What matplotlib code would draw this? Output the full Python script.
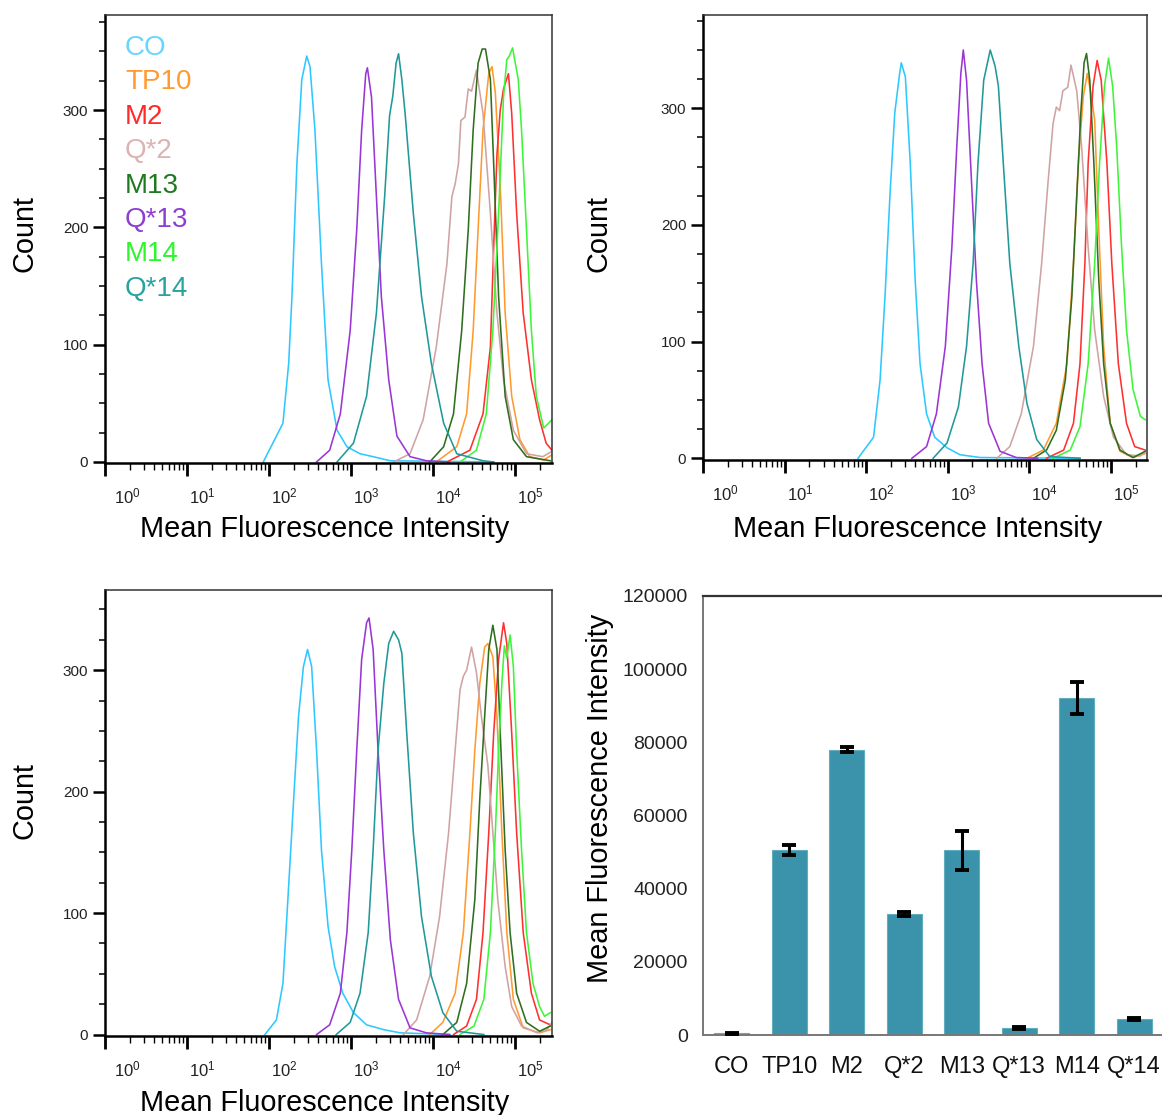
import matplotlib
matplotlib.use("Agg")
import matplotlib.pyplot as plt
import numpy as np
from matplotlib.ticker import FixedLocator, LogLocator, MultipleLocator, NullFormatter
from matplotlib.transforms import ScaledTranslation, blended_transform_factory

plt.rcParams['font.family'] = ['Liberation Sans', 'DejaVu Sans']
plt.rcParams['mathtext.fontset'] = 'custom'
plt.rcParams['mathtext.rm'] = 'Liberation Sans'
plt.rcParams['mathtext.it'] = 'Liberation Sans:italic'
plt.rcParams['mathtext.bf'] = 'Liberation Sans:bold'

# ---------------------------------------------------------------- data
SAMPLES = ["CO", "TP10", "M2", "Q*2", "M13", "Q*13", "M14", "Q*14"]
LINE_COLORS = ["#2ec8ff", "#ff9a30", "#ff3030", "#d0a3a3",
               "#2f6e1f", "#9b35d6", "#3ff53a", "#21999a"]
LEGEND_COLORS = ["#66d6ff", "#ff9a30", "#ff2a2a", "#dcb3b3",
                 "#1f7a1f", "#8d3fd0", "#2ef52e", "#2aa3a0"]

# flow cytometry histograms, points given as (log10 fluorescence, cell count)
REP1_CO = [(1.93, 0), (2.17, 33), (2.24, 84), (2.28, 141), (2.34, 254), (2.40, 326), (2.46, 346),
           (2.50, 337), (2.56, 283), (2.64, 169), (2.72, 70), (2.83, 27), (2.95, 13), (3.11, 7),
           (3.27, 4.5), (3.48, 1), (4.74, 0)]
REP1_TP10 = [(4.04, 0), (4.29, 13), (4.41, 41), (4.49, 112), (4.55, 198), (4.61, 283), (4.68, 331),
             (4.72, 337), (4.76, 315), (4.82, 236), (4.88, 127), (4.96, 56), (5.06, 19), (5.18, 4.5),
             (5.35, 1.7), (5.45, 6)]
REP1_M2 = [(4.17, 0), (4.45, 10), (4.61, 41), (4.70, 98), (4.74, 183), (4.78, 262), (4.82, 300),
           (4.86, 318), (4.92, 331), (4.96, 297), (5.02, 212), (5.10, 127), (5.20, 70), (5.30, 36),
           (5.38, 16), (5.45, 10)]
REP1_Q2 = [(3.52, 0), (3.72, 7), (3.88, 36), (4.04, 98), (4.17, 169), (4.23, 226), (4.27, 237),
           (4.31, 254), (4.34, 291), (4.39, 294), (4.43, 318), (4.47, 316), (4.53, 334), (4.61, 297),
           (4.70, 212), (4.78, 127), (4.86, 70), (4.98, 27), (5.14, 7), (5.34, 4.5), (5.45, 9)]
REP1_M13 = [(3.96, 0), (4.13, 13), (4.25, 41), (4.35, 112), (4.43, 198), (4.49, 283), (4.55, 340),
            (4.60, 352), (4.64, 352), (4.70, 326), (4.74, 254), (4.80, 141), (4.88, 56), (4.98, 19),
            (5.14, 4.5), (5.43, 1)]
REP1_Q13 = [(2.58, 0), (2.74, 10), (2.87, 41), (2.99, 112), (3.07, 198), (3.13, 283), (3.18, 331),
            (3.20, 336), (3.25, 311), (3.31, 226), (3.37, 141), (3.46, 70), (3.56, 22), (3.72, 4.5),
            (3.92, 1), (4.20, 0)]
REP1_M14 = [(4.33, 0), (4.53, 10), (4.65, 41), (4.73, 112), (4.80, 212), (4.86, 311), (4.90, 343),
            (4.93, 346), (4.97, 353), (5.04, 326), (5.08, 283), (5.14, 198), (5.20, 112), (5.26, 56),
            (5.35, 29), (5.41, 33), (5.45, 36)]
REP1_Q14 = [(2.83, 0), (3.03, 16), (3.19, 56), (3.31, 127), (3.41, 226), (3.47, 295), (3.51, 312),
            (3.55, 340), (3.58, 348), (3.62, 326), (3.66, 297), (3.76, 212), (3.86, 141), (3.98, 84),
            (4.13, 33), (4.29, 7), (4.61, 1), (4.74, 0)]

REP2_CO = [(1.90, 0), (2.09, 18), (2.17, 67), (2.23, 138), (2.29, 224), (2.35, 296), (2.41, 330),
           (2.43, 339), (2.48, 327), (2.54, 253), (2.60, 153), (2.66, 81), (2.74, 38), (2.84, 18),
           (2.99, 9), (3.15, 3), (3.40, 0.6), (4.62, 0)]
REP2_TP10 = [(3.97, 0), (4.17, 7), (4.33, 30), (4.46, 81), (4.54, 167), (4.60, 253), (4.66, 310),
             (4.71, 330), (4.76, 310), (4.80, 290), (4.85, 196), (4.91, 96), (4.99, 30), (5.11, 6),
             (5.27, 0.6), (5.42, 4)]
REP2_M2 = [(4.21, 0), (4.42, 7), (4.54, 30), (4.62, 81), (4.68, 167), (4.72, 253), (4.78, 319),
           (4.83, 341), (4.88, 324), (4.95, 253), (5.01, 167), (5.09, 81), (5.19, 30), (5.29, 10),
           (5.42, 7)]
REP2_Q2 = [(3.60, 0), (3.76, 10), (3.90, 38), (4.05, 96), (4.15, 167), (4.23, 238), (4.29, 287),
           (4.33, 301), (4.37, 298), (4.41, 315), (4.47, 318), (4.51, 337), (4.58, 315), (4.64, 267),
           (4.72, 181), (4.80, 110), (4.91, 53), (5.03, 18), (5.19, 3), (5.36, 2), (5.42, 6)]
REP2_M13 = [(4.05, 0), (4.21, 7), (4.33, 24), (4.44, 67), (4.52, 138), (4.58, 224), (4.63, 296),
            (4.67, 339), (4.70, 347), (4.74, 324), (4.79, 253), (4.85, 153), (4.91, 81), (4.99, 30),
            (5.11, 7), (5.27, 0.6), (5.42, 6)]
REP2_Q13 = [(2.56, 0), (2.74, 10), (2.86, 38), (2.97, 96), (3.05, 181), (3.11, 267), (3.16, 330),
            (3.19, 350), (3.23, 324), (3.29, 238), (3.35, 153), (3.42, 81), (3.50, 30), (3.64, 6),
            (3.84, 0.6), (4.10, 0)]
REP2_M14 = [(4.29, 0), (4.50, 7), (4.62, 27), (4.72, 81), (4.80, 167), (4.86, 253), (4.92, 319),
            (4.97, 343), (5.02, 319), (5.07, 267), (5.13, 181), (5.19, 110), (5.27, 59), (5.36, 36),
            (5.42, 33)]
REP2_Q14 = [(2.82, 0), (2.99, 13), (3.13, 44), (3.23, 96), (3.31, 167), (3.37, 253), (3.44, 324),
            (3.52, 350), (3.58, 336), (3.62, 319), (3.68, 253), (3.76, 167), (3.87, 96), (3.97, 47),
            (4.09, 16), (4.25, 1.4), (4.62, 0)]

REP3_CO = [(1.95, 0), (2.09, 12), (2.17, 42), (2.23, 111), (2.30, 193), (2.36, 262), (2.42, 303),
           (2.47, 317), (2.52, 303), (2.58, 234), (2.64, 152), (2.72, 89), (2.80, 56), (2.90, 34),
           (3.03, 18), (3.19, 8), (3.40, 4), (3.60, 1.4), (4.21, 0)]
REP3_TP10 = [(3.96, 0), (4.12, 10), (4.27, 34), (4.37, 84), (4.45, 166), (4.51, 234), (4.57, 289),
             (4.63, 319), (4.67, 322), (4.73, 311), (4.78, 262), (4.84, 166), (4.90, 84), (4.98, 29),
             (5.10, 5.5), (5.30, 1.4), (5.43, 4)]
REP3_M2 = [(4.25, 0), (4.41, 7), (4.53, 29), (4.61, 84), (4.68, 166), (4.74, 248), (4.80, 309),
           (4.86, 339), (4.90, 322), (4.96, 248), (5.02, 166), (5.10, 84), (5.20, 34), (5.30, 12),
           (5.43, 8)]
REP3_Q2 = [(3.64, 0), (3.80, 12), (3.96, 48), (4.08, 97), (4.19, 166), (4.27, 234), (4.33, 284),
           (4.37, 295), (4.41, 300), (4.47, 319), (4.53, 298), (4.59, 262), (4.67, 221), (4.73, 166),
           (4.79, 111), (4.88, 56), (4.96, 23), (5.08, 7), (5.27, 1.4), (5.39, 4), (5.45, 10)]
REP3_M13 = [(4.12, 0), (4.29, 10), (4.41, 42), (4.51, 111), (4.57, 193), (4.63, 262), (4.68, 317),
            (4.73, 337), (4.78, 317), (4.82, 248), (4.88, 152), (4.94, 84), (5.02, 34), (5.14, 10),
            (5.30, 2.7), (5.43, 7)]
REP3_Q13 = [(2.58, 0), (2.74, 8), (2.87, 34), (2.95, 84), (3.01, 152), (3.07, 234), (3.13, 309),
            (3.19, 339), (3.22, 343), (3.27, 317), (3.33, 234), (3.40, 152), (3.48, 78), (3.58, 29),
            (3.72, 5.5), (3.92, 1.4), (4.20, 0)]
REP3_M14 = [(4.33, 0), (4.50, 7), (4.62, 29), (4.70, 84), (4.76, 166), (4.80, 234), (4.84, 289),
            (4.87, 320), (4.90, 310), (4.94, 329), (4.98, 303), (5.02, 234), (5.08, 152), (5.14, 84),
            (5.22, 42), (5.30, 23), (5.36, 15), (5.43, 18)]
REP3_Q14 = [(2.82, 0), (2.99, 10), (3.11, 34), (3.21, 84), (3.27, 152), (3.33, 234), (3.40, 289),
            (3.46, 322), (3.52, 332), (3.58, 325), (3.62, 314), (3.68, 248), (3.76, 166), (3.86, 97),
            (3.98, 48), (4.12, 18), (4.29, 2.7), (4.62, 0)]

# mean fluorescence intensity per sample (mean, error)
MFI_MEAN = [500, 50500, 78000, 33000, 50500, 1900, 92200, 4400]
MFI_ERR = [150, 1300, 600, 600, 5300, 300, 4400, 350]

DECADES = [0, 1, 2, 3, 4, 5]
COUNT_TICKS = [0, 100, 200, 300]
MFI_TICKS = [0, 20000, 40000, 60000, 80000, 100000, 120000]

REPLICATES = [
    [REP1_CO, REP1_TP10, REP1_M2, REP1_Q2, REP1_M13, REP1_Q13, REP1_M14, REP1_Q14],
    [REP2_CO, REP2_TP10, REP2_M2, REP2_Q2, REP2_M13, REP2_Q13, REP2_M14, REP2_Q14],
    [REP3_CO, REP3_TP10, REP3_M2, REP3_Q2, REP3_M13, REP3_Q13, REP3_M14, REP3_Q14],
]

# ---------------------------------------------------------------- layout
W, H = 1162, 1115
DPI = 100
fig = plt.figure(figsize=(W / DPI, H / DPI), dpi=DPI)
fig.patch.set_facecolor("white")


def px_axes(left, top, right, bottom):
    return fig.add_axes([left / W, 1 - bottom / H, (right - left) / W, (bottom - top) / H])


def px(v):
    return v / DPI


def style_histogram(ax, xmax_exp, ylim, ylab_xy, xlab_xy):
    ax.set_xscale("log")
    ax.set_xlim(1, 10 ** xmax_exp)
    ax.set_ylim(*ylim)
    ax.xaxis.set_major_locator(FixedLocator([10.0 ** d for d in DECADES]))
    ax.xaxis.set_minor_locator(LogLocator(base=10, subs=np.arange(2, 10)))
    ax.xaxis.set_major_formatter(NullFormatter())
    ax.xaxis.set_minor_formatter(NullFormatter())
    ax.yaxis.set_major_locator(FixedLocator(COUNT_TICKS))
    ax.yaxis.set_minor_locator(MultipleLocator(25))
    ax.tick_params(axis="x", which="major", direction="out", length=9, width=2.0, color="black")
    ax.tick_params(axis="x", which="minor", direction="out", length=5, width=1.0, color="black")
    ax.tick_params(axis="y", which="major", direction="out", length=8.5, width=1.8,
                   color="black", labelsize=11, pad=3.5, labelcolor="#222222")
    ax.tick_params(axis="y", which="minor", direction="out", length=4, width=1.1, color="black")
    for side in ("left", "bottom"):
        ax.spines[side].set_linewidth(1.8)
        ax.spines[side].set_color("black")
    for side in ("top", "right"):
        ax.spines[side].set_linewidth(1.1)
        ax.spines[side].set_color("#333333")
    # decade labels sit just right of their tick
    base = blended_transform_factory(ax.transData, ax.transAxes)
    for d in DECADES:
        dx = 9 if d == 0 else 2
        tr = base + ScaledTranslation(px(dx), px(-40), fig.dpi_scale_trans)
        ax.text(10.0 ** d, 0, r"$10^{%d}$" % d, transform=tr, ha="left", va="baseline",
                fontsize=12, color="#222222")
    ax.set_ylabel("Count", fontsize=20.8)
    ax.yaxis.set_label_coords(*ylab_xy)
    ax.yaxis.label.set_verticalalignment("center")
    ax.set_xlabel("Mean Fluorescence Intensity", fontsize=20.8)
    ax.xaxis.set_label_coords(*xlab_xy)
    ax.xaxis.label.set_verticalalignment("center")


def draw_traces(ax, traces):
    for trace, color in zip(traces, LINE_COLORS):
        arr = np.array(trace, dtype=float)
        ax.plot(10.0 ** arr[:, 0], arr[:, 1], color=color, lw=1.15, solid_joinstyle="round")


# panel A: replicate 1 with legend
ax1 = px_axes(105, 15, 552, 463)
draw_traces(ax1, REPLICATES[0])
style_histogram(ax1, 447 / 82, (-0.9, 381), (-80 / 447, 0.513), (0.492, -0.147))
for i, (name, color) in enumerate(zip(SAMPLES, LEGEND_COLORS)):
    ax1.text(20 / 447, (463 - 48 - i * 34.4) / 448, name, transform=ax1.transAxes,
             fontsize=20, color=color, ha="left", va="center")

# panel B: replicate 2
ax2 = px_axes(703, 15, 1147, 460)
draw_traces(ax2, REPLICATES[1])
style_histogram(ax2, 444 / 81.6, (-1.5, 380), (-105 / 444, 0.51), (0.484, -0.155))

# panel C: replicate 3
ax3 = px_axes(105, 590, 552, 1036)
draw_traces(ax3, REPLICATES[2])
style_histogram(ax3, 447 / 82, (-1.2, 366), (-80 / 447, 0.529), (0.492, -0.150))

# panel D: mean fluorescence bar chart
ax4 = px_axes(703, 596, 1163, 1035)
xpos = np.arange(len(SAMPLES))
ax4.bar(xpos, MFI_MEAN, width=0.61, color="#3a93aa", edgecolor="#62aec0", linewidth=0.8,
        zorder=2)
ax4.errorbar(xpos, MFI_MEAN, yerr=MFI_ERR, fmt="none", ecolor="black", elinewidth=2.2,
             capsize=5, capthick=2.8, zorder=3)
ax4.set_xlim(-0.5, len(SAMPLES) - 0.5)
ax4.set_ylim(0, 120000)
ax4.set_xticks(xpos)
ax4.set_xticklabels(SAMPLES)
ax4.set_yticks(MFI_TICKS)
ax4.set_yticklabels([str(t) for t in MFI_TICKS])
ax4.tick_params(axis="x", length=0, labelsize=17, pad=15, labelcolor="#111111")
ax4.tick_params(axis="y", length=0, labelsize=14, pad=11, labelcolor="#222222")
ax4.spines["right"].set_visible(False)
ax4.spines["top"].set_linewidth(1.6)
ax4.spines["top"].set_color("#333333")
for side in ("left", "bottom"):
    ax4.spines[side].set_linewidth(1.4)
    ax4.spines[side].set_color("#777777")
ax4.set_ylabel("Mean Fluorescence Intensity", fontsize=20.8)
ax4.yaxis.set_label_coords(-103 / 460, 0.54)
ax4.yaxis.label.set_verticalalignment("center")

fig.savefig("out.png", dpi=DPI, facecolor="white")
